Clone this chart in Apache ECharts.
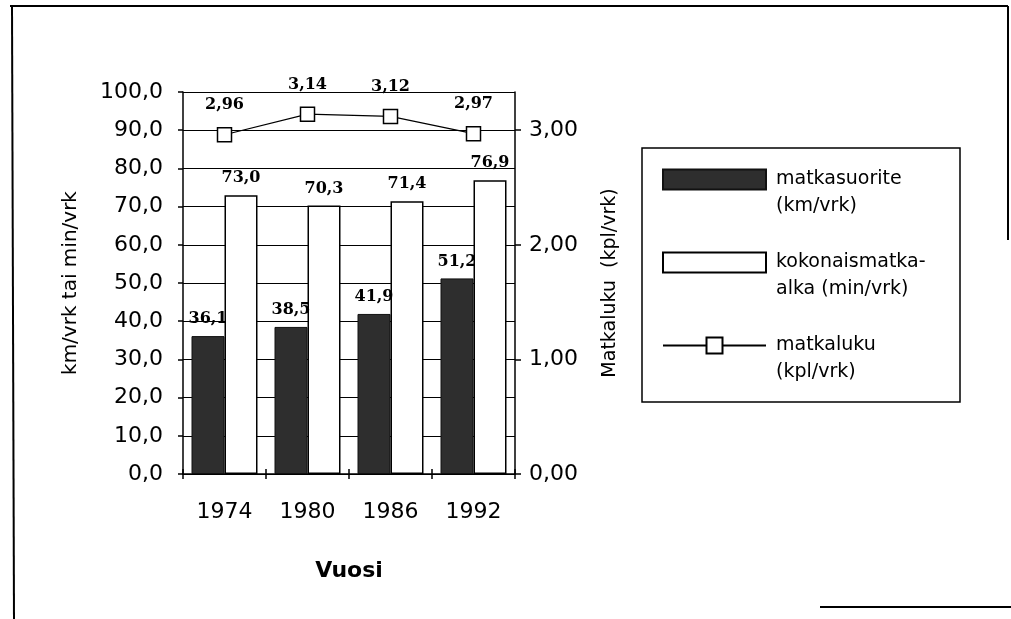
<!DOCTYPE html>
<html>
<head>
<meta charset="utf-8">
<script src="https://cdn.jsdelivr.net/npm/echarts@6/dist/echarts.min.js"></script>
<style>
  html, body { margin: 0; padding: 0; background: #fff; }
  #chart { width: 1011px; height: 619px; }
</style>
</head>
<body>
<div id="chart"></div>
<script>
// Survey years on the category axis
const years = ['1974', '1980', '1986', '1992'];
// Distance travelled per person per day (km/vrk)
const matkasuorite = [36.1, 38.5, 41.9, 51.2];
// Total travel time per person per day (min/vrk)
const matkaaika = [73.0, 70.3, 71.4, 76.9];
// Number of trips per person per day (kpl/vrk)
const matkaluku = [2.96, 3.14, 3.12, 2.97];
// Right-axis tick values
const rightTicks = [0, 1, 2, 3];

const seriesNames = [
  'matkasuorite\n(km/vrk)',
  'kokonaismatka-\nalka (min/vrk)',
  'matkaluku\n(kpl/vrk)'
];

const fi = (v, d) => v.toFixed(d).replace('.', ',');
const sansFont = 'DejaVu Sans';
const serifFont = 'DejaVu Serif';

const valueLabel = (digits) => ({
  show: true,
  position: 'top',
  distance: 9,
  fontFamily: serifFont,
  fontWeight: 'bold',
  fontSize: 16,
  color: '#000',
  formatter: p => fi(p.value, digits)
});

const chart = echarts.init(document.getElementById('chart'), null, { renderer: 'canvas' });

chart.setOption({
  backgroundColor: '#ffffff',
  animation: false,
  grid: { left: 183, right: 496, top: 92, bottom: 145, containLabel: false },
  legend: {
    orient: 'vertical',
    left: 662,
    top: 139,
    itemWidth: 103,
    itemHeight: 20,
    itemGap: 2,
    padding: 0,
    selectedMode: false,
    // leading blank line keeps the first text line level with the icon
    formatter: name => '\n' + name,
    textStyle: {
      fontFamily: sansFont,
      fontSize: 19,
      color: '#000',
      lineHeight: 27,
      padding: [0, 0, 0, 5]
    },
    data: [
      { name: seriesNames[0], icon: 'rect' },
      { name: seriesNames[1], icon: 'rect' },
      { name: seriesNames[2] }
    ]
  },
  xAxis: [
    {
      type: 'category',
      data: years,
      position: 'bottom',
      name: 'Vuosi',
      nameLocation: 'middle',
      nameGap: 86,
      nameTextStyle: { fontFamily: sansFont, fontSize: 22, fontWeight: 'bold', color: '#000' },
      axisLine: { lineStyle: { color: '#000', width: 1.5 } },
      axisTick: { show: true, length: 5, lineStyle: { color: '#000', width: 1.5 } },
      axisLabel: { fontFamily: sansFont, fontSize: 22, color: '#000', margin: 27 },
      splitLine: { show: false }
    },
    {
      // inner half of the crossing category ticks
      type: 'category',
      data: years,
      position: 'bottom',
      axisLine: { show: false },
      axisTick: { show: true, inside: true, length: 5, lineStyle: { color: '#000', width: 1.5 } },
      axisLabel: { show: false },
      splitLine: { show: false }
    }
  ],
  yAxis: [
    {
      type: 'value',
      min: 0,
      max: 100,
      interval: 10,
      position: 'left',
      name: 'km/vrk tai min/vrk',
      nameLocation: 'middle',
      nameRotate: 90,
      nameGap: 102,
      nameTextStyle: { fontFamily: sansFont, fontSize: 20, color: '#000' },
      axisLine: { show: true, lineStyle: { color: '#000', width: 1.5 } },
      axisTick: { show: true, length: 5, lineStyle: { color: '#000', width: 1.5 } },
      axisLabel: { fontFamily: sansFont, fontSize: 22, color: '#000', margin: 20, formatter: v => fi(v, 1) },
      splitLine: { show: true, lineStyle: { color: '#000', width: 1.2 } }
    },
    {
      type: 'value',
      min: 0,
      max: 10 / 3,
      position: 'right',
      name: 'Matkaluku  (kpl/vrk)',
      nameLocation: 'middle',
      nameRotate: 90,
      nameGap: 86,
      nameTextStyle: { fontFamily: sansFont, fontSize: 19, color: '#000' },
      axisLine: { show: true, lineStyle: { color: '#000', width: 1.5 } },
      axisTick: { show: true, length: 6, customValues: rightTicks, lineStyle: { color: '#000', width: 1.5 } },
      axisLabel: { fontFamily: sansFont, fontSize: 22, color: '#000', margin: 14, customValues: rightTicks, formatter: v => fi(v, 2) },
      splitLine: { show: false }
    }
  ],
  series: [
    {
      name: seriesNames[0],
      type: 'bar',
      data: matkasuorite,
      barWidth: 33,
      barGap: '0%',
      itemStyle: { color: '#2e2e2e', borderColor: '#111', borderWidth: 1 },
      label: valueLabel(1)
    },
    {
      name: seriesNames[1],
      type: 'bar',
      data: matkaaika,
      barWidth: 33,
      barGap: '0%',
      itemStyle: { color: '#ffffff', borderColor: '#000', borderWidth: 1.5 },
      label: valueLabel(1)
    },
    {
      name: seriesNames[2],
      type: 'line',
      yAxisIndex: 1,
      data: matkaluku,
      symbol: 'rect',
      symbolSize: 14,
      z: 5,
      lineStyle: { color: '#000', width: 1.2 },
      itemStyle: { color: '#ffffff', borderColor: '#000', borderWidth: 1.5 },
      label: Object.assign(valueLabel(2), { distance: 14 })
    }
  ],
  graphic: [
    // legend frame
    { type: 'rect', shape: { x: 642, y: 148, width: 318, height: 254 }, style: { fill: 'none', stroke: '#000', lineWidth: 1.5 }, z: -1 },
    // page frame
    { type: 'line', shape: { x1: 10, y1: 6, x2: 1008, y2: 6 }, style: { stroke: '#000', lineWidth: 2 } },
    { type: 'line', shape: { x1: 12, y1: 6, x2: 14, y2: 619 }, style: { stroke: '#000', lineWidth: 2 } },
    { type: 'line', shape: { x1: 1008, y1: 6, x2: 1008, y2: 240 }, style: { stroke: '#000', lineWidth: 2 } },
    { type: 'line', shape: { x1: 820, y1: 607, x2: 1011, y2: 607 }, style: { stroke: '#000', lineWidth: 2 } }
  ]
});
</script>
</body>
</html>
